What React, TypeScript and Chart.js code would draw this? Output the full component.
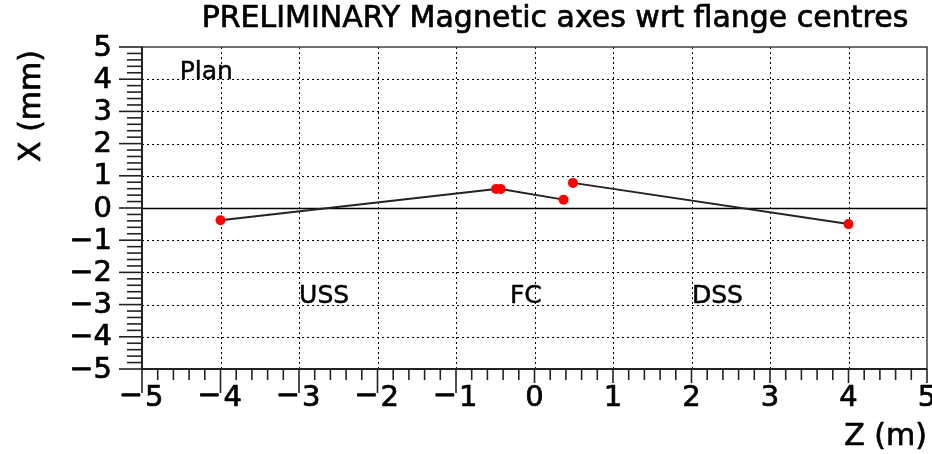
import { useEffect, useRef } from "react";
import { Chart, registerables } from "chart.js";

Chart.register(...registerables);

// Titles
const chartTitle = "PRELIMINARY Magnetic axes wrt flange centres";
const xAxisTitle = "Z (m)";
const yAxisTitle = "X (mm)";

// Axis ranges and major tick values
const zLimits = [-5, 5];
const xLimits = [-5, 5];
const zMajorTicks = [-5, -4, -3, -2, -1, 0, 1, 2, 3, 4, 5];
const xMajorTicks = [-5, -4, -3, -2, -1, 0, 1, 2, 3, 4, 5];
const minorDivisions = 5;

// Measured magnetic axis offsets: upstream chain (USS + FC) and downstream chain (DSS)
const upstreamZ = [-4.0, -0.49, -0.43, 0.37];
const upstreamX = [-0.38, 0.59, 0.59, 0.26];
const downstreamZ = [0.49, 4.0];
const downstreamX = [0.78, -0.5];

// Region captions
const regionNames = ["Plan", "USS", "FC", "DSS"];

const FONT = "'DejaVu Sans', sans-serif";

const toPoints = (zs: number[], xs: number[]) => zs.map((z, i) => ({ x: z, y: xs[i] }));

// Slightly heavier text, drawn as fill plus a thin outline
function heavyText(ctx: CanvasRenderingContext2D, text: string, x: number, y: number) {
  ctx.fillText(text, x, y);
  ctx.strokeText(text, x, y);
}

const decorations = {
  id: "rootStyleAxes",
  beforeDatasetsDraw(chart: any) {
    const { ctx, chartArea: a, scales } = chart;
    const sx = scales.x;
    const sy = scales.y;
    ctx.save();
    // dotted grid
    ctx.strokeStyle = "#000";
    ctx.lineWidth = 1;
    ctx.setLineDash([2, 3]);
    for (const v of zMajorTicks) {
      if (v === zLimits[0] || v === zLimits[1]) continue;
      const px = Math.round(sx.getPixelForValue(v)) + 0.5;
      ctx.beginPath();
      ctx.moveTo(px, a.top);
      ctx.lineTo(px, a.bottom);
      ctx.stroke();
    }
    for (const v of xMajorTicks) {
      if (v === xLimits[0] || v === xLimits[1] || v === 0) continue;
      const py = Math.round(sy.getPixelForValue(v)) + 0.5;
      ctx.beginPath();
      ctx.moveTo(a.left, py);
      ctx.lineTo(a.right, py);
      ctx.stroke();
    }
    ctx.setLineDash([]);
    // zero line
    const y0 = Math.round(sy.getPixelForValue(0)) + 0.5;
    ctx.lineWidth = 1.3;
    ctx.beginPath();
    ctx.moveTo(a.left, y0);
    ctx.lineTo(a.right, y0);
    ctx.stroke();
    // frame
    ctx.lineWidth = 1.4;
    ctx.strokeStyle = "#333";
    ctx.strokeRect(a.left, a.top, a.right - a.left, a.bottom - a.top);
    ctx.restore();
  },
  afterDraw(chart: any) {
    const { ctx, chartArea: a, scales } = chart;
    const sx = scales.x;
    const sy = scales.y;
    ctx.save();
    ctx.strokeStyle = "#222";
    ctx.fillStyle = "#000";
    // axis lines
    ctx.lineWidth = 2;
    ctx.beginPath();
    ctx.moveTo(a.left, a.top);
    ctx.lineTo(a.left, a.bottom);
    ctx.lineTo(a.right, a.bottom);
    ctx.stroke();

    // y ticks (outside, left)
    ctx.lineWidth = 1.6;
    for (let i = 0; i < xMajorTicks.length; i++) {
      const v = xMajorTicks[i];
      const py = sy.getPixelForValue(v);
      ctx.beginPath();
      ctx.moveTo(a.left - 23, py);
      ctx.lineTo(a.left, py);
      ctx.stroke();
      if (i < xMajorTicks.length - 1) {
        const step = (xMajorTicks[i + 1] - v) / minorDivisions;
        for (let k = 1; k < minorDivisions; k++) {
          const pm = sy.getPixelForValue(v + k * step);
          ctx.beginPath();
          ctx.moveTo(a.left - 15, pm);
          ctx.lineTo(a.left, pm);
          ctx.stroke();
        }
      }
    }
    // x ticks (below axis)
    for (let i = 0; i < zMajorTicks.length; i++) {
      const v = zMajorTicks[i];
      const px = sx.getPixelForValue(v);
      ctx.beginPath();
      ctx.moveTo(px, a.bottom);
      ctx.lineTo(px, a.bottom + (v < 0 ? 24 : 14));
      ctx.stroke();
      if (i < zMajorTicks.length - 1) {
        const step = (zMajorTicks[i + 1] - v) / minorDivisions;
        for (let k = 1; k < minorDivisions; k++) {
          const pm = sx.getPixelForValue(v + k * step);
          ctx.beginPath();
          ctx.moveTo(pm, a.bottom);
          ctx.lineTo(pm, a.bottom + 11);
          ctx.stroke();
        }
      }
    }

    ctx.strokeStyle = "#000";
    ctx.lineWidth = 0.7;
    ctx.lineJoin = "round";

    // y tick labels
    ctx.font = `29px ${FONT}`;
    ctx.textAlign = "right";
    ctx.textBaseline = "middle";
    for (const v of xMajorTicks) {
      const label = v < 0 ? `\u2212${-v}` : `${v}`;
      heavyText(ctx, label, a.left - 30, sy.getPixelForValue(v) + 1);
    }
    // x tick labels: digit right of the tick, minus sign at the tick foot
    ctx.textBaseline = "alphabetic";
    for (const v of zMajorTicks) {
      const px = sx.getPixelForValue(v);
      const digits = `${Math.abs(v)}`;
      if (v < 0) {
        ctx.textAlign = "left";
        heavyText(ctx, digits, px + 3, a.bottom + 37);
        ctx.textAlign = "right";
        heavyText(ctx, "\u2212", px + 1, a.bottom + 35);
      } else {
        ctx.textAlign = "center";
        heavyText(ctx, digits, px, a.bottom + 37);
      }
    }

    // axis titles
    ctx.font = `30px ${FONT}`;
    ctx.textAlign = "right";
    ctx.textBaseline = "middle";
    heavyText(ctx, xAxisTitle, a.right, 437);
    ctx.save();
    ctx.translate(32, a.top + 3);
    ctx.rotate(-Math.PI / 2);
    ctx.textAlign = "right";
    heavyText(ctx, yAxisTitle, 0, 0);
    ctx.restore();

    // main title
    ctx.font = `30px ${FONT}`;
    ctx.textAlign = "center";
    ctx.textBaseline = "middle";
    heavyText(ctx, chartTitle, 555, 19);

    // region captions
    ctx.lineWidth = 0.5;
    ctx.font = `25px ${FONT}`;
    ctx.textAlign = "left";
    heavyText(ctx, regionNames[0], sx.getPixelForValue(-4.52), sy.getPixelForValue(4.2));
    ctx.textAlign = "center";
    heavyText(ctx, regionNames[1], sx.getPixelForValue(-2.68), sy.getPixelForValue(-2.75));
    heavyText(ctx, regionNames[2], sx.getPixelForValue(-0.11), sy.getPixelForValue(-2.75));
    heavyText(ctx, regionNames[3], sx.getPixelForValue(2.33), sy.getPixelForValue(-2.75));
    ctx.restore();
  },
};

export default function App() {
  const canvasRef = useRef<HTMLCanvasElement | null>(null);

  useEffect(() => {
    if (!canvasRef.current) return;
    const lineStyle = {
      borderColor: "#222",
      borderWidth: 2,
      pointRadius: 5,
      pointBackgroundColor: "#ff0000",
      pointBorderColor: "#ff0000",
      pointBorderWidth: 0,
      tension: 0,
      fill: false,
    };
    const chart = new Chart(canvasRef.current, {
      type: "line",
      data: {
        datasets: [
          { label: "USS-FC", data: toPoints(upstreamZ, upstreamX), ...lineStyle },
          { label: "DSS", data: toPoints(downstreamZ, downstreamX), ...lineStyle },
        ],
      },
      options: {
        animation: false,
        responsive: false,
        layout: { padding: { left: 142, right: 4, top: 47, bottom: 85 } },
        plugins: {
          legend: { display: false },
          title: { display: false },
          tooltip: { enabled: false },
        },
        scales: {
          x: { type: "linear", min: zLimits[0], max: zLimits[1], display: false },
          y: { type: "linear", min: xLimits[0], max: xLimits[1], display: false },
        },
      },
      plugins: [decorations],
    });
    return () => chart.destroy();
  }, []);

  return (
    <div style={{ position: "fixed", left: 0, top: 0, width: 932, height: 454, background: "#fff" }}>
      <canvas ref={canvasRef} width={932} height={454} />
    </div>
  );
}
